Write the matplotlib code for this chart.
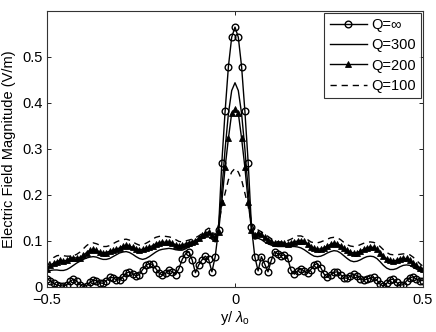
import numpy as np
import matplotlib
matplotlib.use("Agg")
import matplotlib.pyplot as plt

plt.rcParams['font.family'] = ['Liberation Sans', 'DejaVu Sans']
plt.rcParams['mathtext.fontset'] = 'custom'
plt.rcParams['mathtext.rm'] = 'Liberation Sans'
plt.rcParams['mathtext.it'] = 'Liberation Sans:italic'

# sample positions y/lambda_o (115 samples from -0.5 to 0.5)
y_over_lambda = np.linspace(-0.5, 0.5, 115)

q_inf = [
    0.017, 0.014, 0.008, 0.004, 0.003, 0.002, 0.005, 0.012, 0.017, 0.013,
    0.005, 0.001, 0.003, 0.010, 0.015, 0.014, 0.009, 0.008, 0.014, 0.021,
    0.020, 0.016, 0.015, 0.022, 0.030, 0.033, 0.029, 0.024, 0.027, 0.038,
    0.047, 0.051, 0.049, 0.040, 0.030, 0.026, 0.030, 0.037, 0.033, 0.027,
    0.040, 0.060, 0.072, 0.077, 0.059, 0.031, 0.048, 0.059, 0.067, 0.060,
    0.033, 0.066, 0.125, 0.270, 0.382, 0.479, 0.543,
    0.565,
    0.543, 0.479, 0.382, 0.270, 0.130, 0.066, 0.035, 0.066, 0.050, 0.033,
    0.058, 0.077, 0.072, 0.068, 0.070, 0.062, 0.036, 0.028, 0.035, 0.040,
    0.034, 0.030, 0.038, 0.048, 0.051, 0.042, 0.028, 0.021, 0.026, 0.032,
    0.033, 0.027, 0.020, 0.019, 0.024, 0.028, 0.025, 0.017, 0.015, 0.017,
    0.019, 0.021, 0.015, 0.006, 0.002, 0.008, 0.016, 0.017, 0.010, 0.004,
    0.005, 0.013, 0.020, 0.022, 0.017, 0.014, 0.014,
]

q_300 = [
    0.033, 0.036, 0.037, 0.037, 0.036, 0.036, 0.038, 0.042, 0.047, 0.052,
    0.056, 0.060, 0.063, 0.065, 0.066, 0.065, 0.062, 0.060, 0.060, 0.062,
    0.066, 0.070, 0.074, 0.076, 0.077, 0.075, 0.071, 0.066, 0.062, 0.060,
    0.062, 0.066, 0.071, 0.076, 0.080, 0.082, 0.083, 0.084, 0.083, 0.081,
    0.080, 0.080, 0.083, 0.087, 0.091, 0.095, 0.100, 0.105, 0.108, 0.109,
    0.104, 0.098, 0.130, 0.210, 0.300, 0.377, 0.427,
    0.444,
    0.427, 0.377, 0.300, 0.210, 0.130, 0.104, 0.106, 0.103, 0.098, 0.094,
    0.091, 0.089, 0.088, 0.088, 0.088, 0.088, 0.088, 0.088, 0.087, 0.085,
    0.081, 0.076, 0.071, 0.067, 0.066, 0.067, 0.070, 0.074, 0.077, 0.079,
    0.078, 0.074, 0.068, 0.062, 0.057, 0.055, 0.056, 0.059, 0.063, 0.066,
    0.067, 0.066, 0.062, 0.055, 0.047, 0.041, 0.038, 0.038, 0.040, 0.044,
    0.047, 0.048, 0.047, 0.043, 0.039, 0.035, 0.033,
]

q_200 = [
    0.040, 0.047, 0.052, 0.055, 0.058, 0.057, 0.058, 0.062, 0.064, 0.063,
    0.064, 0.069, 0.075, 0.080, 0.082, 0.080, 0.076, 0.074, 0.075, 0.078,
    0.080, 0.082, 0.085, 0.089, 0.091, 0.089, 0.086, 0.083, 0.081, 0.082,
    0.084, 0.086, 0.090, 0.094, 0.096, 0.098, 0.097, 0.097, 0.095, 0.092,
    0.090, 0.091, 0.094, 0.096, 0.098, 0.101, 0.106, 0.112, 0.117, 0.120,
    0.113, 0.106, 0.120, 0.185, 0.260, 0.323, 0.378,
    0.386,
    0.378, 0.323, 0.260, 0.185, 0.125, 0.112, 0.117, 0.115, 0.108, 0.102,
    0.099, 0.096, 0.095, 0.096, 0.095, 0.094, 0.096, 0.098, 0.100, 0.101,
    0.099, 0.094, 0.088, 0.084, 0.082, 0.083, 0.085, 0.089, 0.093, 0.095,
    0.094, 0.090, 0.084, 0.080, 0.076, 0.074, 0.075, 0.078, 0.082, 0.085,
    0.087, 0.086, 0.082, 0.075, 0.067, 0.061, 0.058, 0.057, 0.058, 0.061,
    0.062, 0.062, 0.059, 0.053, 0.047, 0.042, 0.039,
]

q_100 = [
    0.044, 0.056, 0.064, 0.068, 0.069, 0.068, 0.067, 0.067, 0.068, 0.071,
    0.076, 0.083, 0.090, 0.095, 0.096, 0.094, 0.091, 0.088, 0.088, 0.090,
    0.094, 0.098, 0.101, 0.103, 0.104, 0.102, 0.098, 0.094, 0.091, 0.092,
    0.095, 0.099, 0.104, 0.108, 0.110, 0.111, 0.110, 0.109, 0.107, 0.103,
    0.099, 0.098, 0.100, 0.102, 0.104, 0.107, 0.111, 0.116, 0.123, 0.128,
    0.124, 0.112, 0.135, 0.175, 0.204, 0.233, 0.250,
    0.258,
    0.250, 0.233, 0.204, 0.175, 0.140, 0.120, 0.124, 0.120, 0.115, 0.110,
    0.105, 0.101, 0.098, 0.098, 0.099, 0.101, 0.104, 0.108, 0.111, 0.111,
    0.108, 0.103, 0.098, 0.096, 0.096, 0.098, 0.101, 0.104, 0.107, 0.108,
    0.107, 0.103, 0.097, 0.092, 0.089, 0.088, 0.089, 0.092, 0.095, 0.097,
    0.098, 0.097, 0.094, 0.088, 0.081, 0.075, 0.071, 0.070, 0.070, 0.071,
    0.072, 0.072, 0.070, 0.065, 0.058, 0.051, 0.045,
]

labels = ["Q=\u221e", "Q=300", "Q=200", "Q=100"]
x_ticks = [-0.5, 0, 0.5]
x_tick_labels = ["\u22120.5", "0", "0.5"]
y_ticks = [0, 0.1, 0.2, 0.3, 0.4, 0.5]
y_tick_labels = ["0", "0.1", "0.2", "0.3", "0.4", "0.5"]

fig = plt.figure(figsize=(4.36, 3.32), dpi=100)
ax = fig.add_axes([47/436, 45/332, 376/436, 276/332])

ax.plot(y_over_lambda, q_inf, color='black', lw=1.0, marker='o', ms=4.8,
        mfc='none', mec='black', mew=1.0, label=labels[0])
ax.plot(y_over_lambda, q_300, color='black', lw=1.0, label=labels[1])
ax.plot(y_over_lambda, q_200, color='black', lw=1.0, marker='^', ms=4.3,
        mfc='black', mec='black', mew=0.6, label=labels[2])
ax.plot(y_over_lambda, q_100, color='black', lw=1.0, ls=(0, (4.5, 3.5)), label=labels[3])

ax.set_xlim(-0.5, 0.5)
ax.set_ylim(0, 0.6)
ax.set_xticks(x_ticks)
ax.set_xticklabels(x_tick_labels)
ax.set_yticks(y_ticks)
ax.set_yticklabels(y_tick_labels)
ax.tick_params(direction='in', length=3, width=0.6, top=True, right=True,
               labelsize=10.5, pad=3, colors='black')
ax.tick_params(axis='x', pad=4)
for s in ax.spines.values():
    s.set_linewidth(0.8)
    s.set_color('#333333')

ax.set_xlabel("y/ $\\lambda_{\\mathrm{o}}$", fontsize=10.5, labelpad=2)
ax.set_ylabel("Electric Field Magnitude (V/m)", fontsize=10.5, labelpad=5)

leg = ax.legend(loc='upper right', fontsize=10.5, frameon=True, fancybox=False,
                edgecolor='black', handlelength=2.6, handletextpad=0.25,
                borderpad=0.35, labelspacing=0.42, borderaxespad=0.15)
leg.get_frame().set_linewidth(0.8)

fig.savefig("out.png", dpi=100)
